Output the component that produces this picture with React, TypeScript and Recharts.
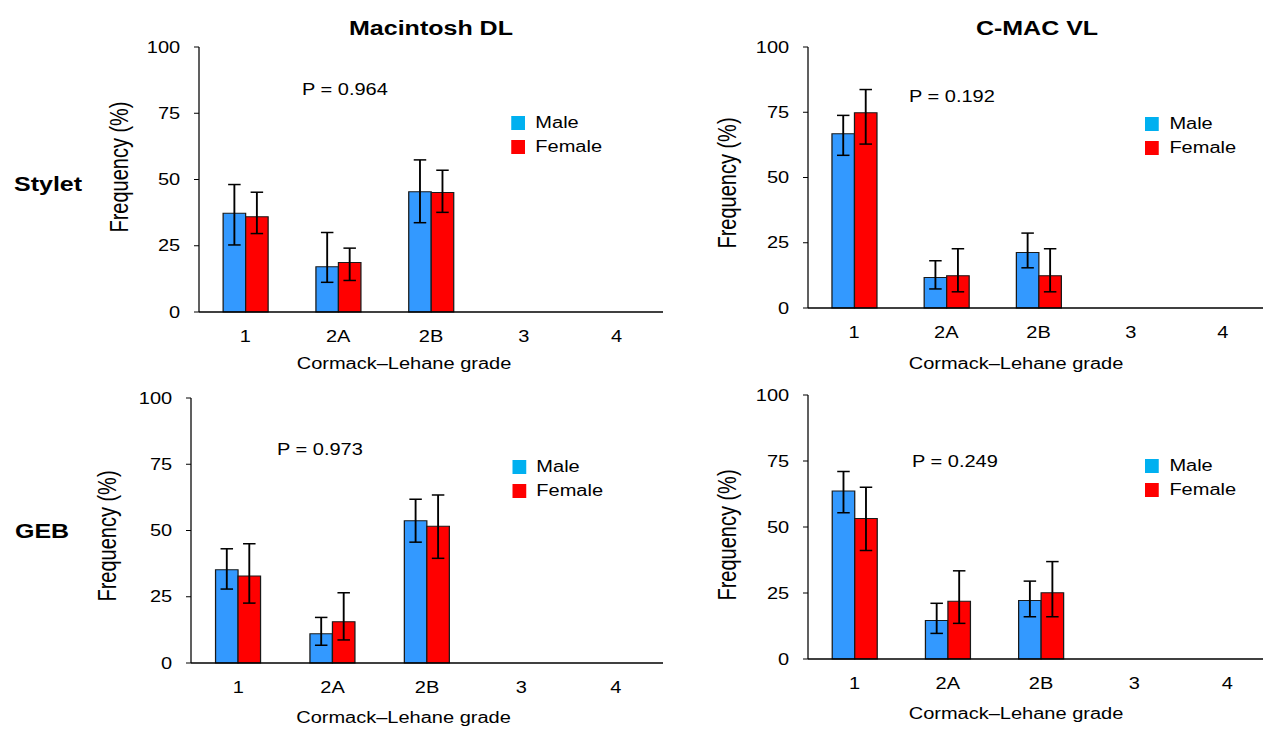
import React from 'react';
import { BarChart, Bar, XAxis, YAxis, ErrorBar, Legend } from 'recharts';

// ---------- data ----------
const grades = ['1', '2A', '2B', '3', '4'];
const yTicks = [0, 25, 50, 75, 100];
const seriesNames = ['Male', 'Female'];

// Macintosh DL – Stylet
const macStyletMale = [37.3, 17.1, 45.4, 0, 0];
const macStyletMaleLow = [25.3, 11.2, 33.7, null, null];
const macStyletMaleHigh = [48.1, 30.0, 57.4, null, null];
const macStyletFemale = [35.9, 18.7, 45.1, 0, 0];
const macStyletFemaleLow = [29.6, 11.9, 37.6, null, null];
const macStyletFemaleHigh = [45.2, 24.1, 53.5, null, null];

// C-MAC VL – Stylet
const cmacStyletMale = [66.8, 11.7, 21.3, 0, 0];
const cmacStyletMaleLow = [58.5, 7.3, 15.4, null, null];
const cmacStyletMaleHigh = [73.8, 18.1, 28.7, null, null];
const cmacStyletFemale = [74.8, 12.4, 12.4, 0, 0];
const cmacStyletFemaleLow = [62.8, 6.2, 6.2, null, null];
const cmacStyletFemaleHigh = [83.7, 22.7, 22.7, null, null];

// Macintosh DL – GEB
const macGebMale = [35.2, 11.0, 53.7, 0, 0];
const macGebMaleLow = [27.9, 6.7, 45.6, null, null];
const macGebMaleHigh = [43.1, 17.2, 61.8, null, null];
const macGebFemale = [32.8, 15.6, 51.6, 0, 0];
const macGebFemaleLow = [22.6, 8.7, 39.5, null, null];
const macGebFemaleHigh = [45.0, 26.5, 63.4, null, null];

// C-MAC VL – GEB
const cmacGebMale = [63.6, 14.6, 22.2, 0, 0];
const cmacGebMaleLow = [55.4, 9.7, 16.0, null, null];
const cmacGebMaleHigh = [71.0, 21.1, 29.5, null, null];
const cmacGebFemale = [53.2, 21.9, 25.1, 0, 0];
const cmacGebFemaleLow = [41.1, 13.5, 16.0, null, null];
const cmacGebFemaleHigh = [65.1, 33.4, 36.9, null, null];

const pValues = ['P = 0.964', 'P = 0.192', 'P = 0.973', 'P = 0.249'];
const columnTitles = ['Macintosh DL', 'C-MAC VL'];
const rowTitles = ['Stylet', 'GEB'];
const xTitle = 'Cormack\u2013Lehane grade';
const yTitle = 'Frequency (%)';

// ---------- helpers ----------
type Num = number | null;
function err(v: number, lo: Num, hi: Num) {
  if (lo == null || hi == null) return null;
  return [v - lo, hi - v];
}
function buildRows(m: number[], mLo: Num[], mHi: Num[], f: number[], fLo: Num[], fHi: Num[]) {
  return grades.map((g, i) => ({
    grade: g,
    male: m[i],
    female: f[i],
    maleErr: err(m[i], mLo[i], mHi[i]),
    femaleErr: err(f[i], fLo[i], fHi[i]),
  }));
}

const rowsA = buildRows(macStyletMale, macStyletMaleLow, macStyletMaleHigh, macStyletFemale, macStyletFemaleLow, macStyletFemaleHigh);
const rowsB = buildRows(cmacStyletMale, cmacStyletMaleLow, cmacStyletMaleHigh, cmacStyletFemale, cmacStyletFemaleLow, cmacStyletFemaleHigh);
const rowsC = buildRows(macGebMale, macGebMaleLow, macGebMaleHigh, macGebFemale, macGebFemaleLow, macGebFemaleHigh);
const rowsD = buildRows(cmacGebMale, cmacGebMaleLow, cmacGebMaleHigh, cmacGebFemale, cmacGebFemaleLow, cmacGebFemaleHigh);

// ---------- style ----------
const FONT = '"Liberation Sans", Arial, Helvetica, sans-serif';
const STRETCH = 1.25;
const BAR_BLUE = '#3399FF';
const BAR_RED = '#FF0000';
const LEG_BLUE = '#00B0F0';
const LEG_RED = '#FF0000';

type PanelProps = {
  left: number; top: number; width: number; height: number;
  yAxisWidth: number; marginTop: number; marginRight: number; xAxisHeight: number;
  rows: any[]; rightBorder: boolean; pText: string; pX: number; pY: number;
  legX: number; legY: number; yLabX: number; yLabY: number; xLabX: number; xLabY: number;
};

function Panel(p: PanelProps) {
  const legendContent = () => (
    <div style={{ position: 'relative', width: 120, height: 50, fontFamily: FONT, fontSize: 16, color: '#000' }}>
      {seriesNames.map((name, i) => (
        <div key={name} style={{ position: 'absolute', left: 0, top: i * 24, height: 24, display: 'flex', alignItems: 'center' }}>
          <div style={{ width: 11, height: 14, background: i === 0 ? LEG_BLUE : LEG_RED }} />
          <div style={{ marginLeft: 8.5, lineHeight: '24px', whiteSpace: 'nowrap' }}>{name}</div>
        </div>
      ))}
    </div>
  );
  return (
    <div style={{ position: 'absolute', left: p.left, top: p.top, width: p.width, height: p.height }}>
      <BarChart
        width={p.width}
        height={p.height}
        data={p.rows}
        margin={{ top: p.marginTop, right: p.marginRight, left: 0, bottom: 0 }}
        barCategoryGap="26%"
        barGap={0}
        style={{ fontFamily: FONT }}
      >
        <XAxis
          dataKey="grade"
          interval={0}
          height={p.xAxisHeight}
          tickLine={false}
          tickSize={0}
          tickMargin={19}
          tick={{ fill: '#000', fontSize: 16 }}
          axisLine={{ stroke: '#000', strokeWidth: 1.5 }}
          label={() => (
            <text x={p.xLabX} y={p.xLabY} textAnchor="middle" fontSize={16} fill="#000" fontFamily={FONT}>
              {xTitle}
            </text>
          )}
        />
        <XAxis
          xAxisId="top"
          orientation="top"
          dataKey="grade"
          height={0}
          tick={false}
          tickLine={false}
          axisLine={{ stroke: '#8c8c8c', strokeWidth: 1 }}
        />
        <YAxis
          type="number"
          domain={[0, 100]}
          ticks={yTicks}
          interval={0}
          width={p.yAxisWidth}
          tickSize={4}
          tickMargin={11}
          tick={{ fill: '#000', fontSize: 16 }}
          tickLine={{ stroke: '#000' }}
          axisLine={{ stroke: '#000', strokeWidth: 1 }}
          label={() => (
            <text
              x={p.yLabX}
              y={p.yLabY}
              textAnchor="middle"
              dominantBaseline="central"
              fontSize={20}
              fill="#000"
              fontFamily={FONT}
              transform={`rotate(-90, ${p.yLabX}, ${p.yLabY})`}
            >
              {yTitle}
            </text>
          )}
        />
        {p.rightBorder && (
          <YAxis
            yAxisId="right"
            orientation="right"
            type="number"
            domain={[0, 100]}
            width={0}
            tick={false}
            tickLine={false}
            axisLine={{ stroke: '#262626', strokeWidth: 1.5 }}
          />
        )}
        <Legend
          layout="vertical"
          align="center"
          verticalAlign="middle"
          content={legendContent}
          wrapperStyle={{ left: p.legX, top: p.legY, width: 120, height: 50 }}
        />
        <Bar dataKey="male" name="Male" fill={BAR_BLUE} stroke="#1a1a1a" strokeWidth={1} isAnimationActive={false}>
          <ErrorBar dataKey="maleErr" width={5} stroke="#000" strokeWidth={1.5} direction="y" />
        </Bar>
        <Bar dataKey="female" name="Female" fill={BAR_RED} stroke="#1a1a1a" strokeWidth={1} isAnimationActive={false}>
          <ErrorBar dataKey="femaleErr" width={5} stroke="#000" strokeWidth={1.5} direction="y" />
        </Bar>
      </BarChart>
      <div
        style={{
          position: 'absolute', left: p.pX, top: p.pY - 10, lineHeight: '20px',
          fontFamily: FONT, fontSize: 16, color: '#000', whiteSpace: 'nowrap',
        }}
      >
        {p.pText}
      </div>
    </div>
  );
}

export default function App() {
  const titleStyle: React.CSSProperties = {
    position: 'absolute', fontFamily: FONT, fontSize: 20, fontWeight: 'bold',
    color: '#000', lineHeight: '24px', whiteSpace: 'nowrap',
  };
  return (
    <div style={{ position: 'absolute', left: 0, top: 0, width: 1263, height: 729, overflow: 'hidden', background: '#fff' }}>
      <div
        style={{
          position: 'absolute', left: 0, top: 0, width: 1263 / STRETCH, height: 729,
          transform: `scaleX(${STRETCH})`, transformOrigin: '0 0',
        }}
      >
        <div style={{ ...titleStyle, left: 344.8 - 150, width: 300, textAlign: 'center', top: 28 - 12 }}>{columnTitles[0]}</div>
        <div style={{ ...titleStyle, left: 829.6 - 150, width: 300, textAlign: 'center', top: 28 - 12 }}>{columnTitles[1]}</div>
        <div style={{ ...titleStyle, left: 11.2, top: 184 - 12 }}>{rowTitles[0]}</div>
        <div style={{ ...titleStyle, left: 12, top: 531 - 12 }}>{rowTitles[1]}</div>

        <Panel
          left={0} top={0} width={560} height={380}
          yAxisWidth={159.2} marginTop={47} marginRight={29.6} xAxisHeight={68}
          rows={rowsA} rightBorder={true} pText={pValues[0]} pX={241.6} pY={90}
          legX={408.8} legY={123 - 12} yLabX={96} yLabY={167} xLabX={323.2} xLabY={369.5}
        />
        <Panel
          left={560} top={0} width={460} height={380}
          yAxisWidth={86.4} marginTop={47} marginRight={4.8} xAxisHeight={72}
          rows={rowsB} rightBorder={false} pText={pValues[1]} pX={167.2} pY={97}
          legX={356} legY={124 - 12} yLabX={22.4} yLabY={183} xLabX={252.8} xLabY={369.5}
        />
        <Panel
          left={0} top={380} width={560} height={349}
          yAxisWidth={152.8} marginTop={18} marginRight={29.6} xAxisHeight={66}
          rows={rowsC} rightBorder={true} pText={pValues[2]} pX={221.6} pY={70}
          legX={409.6} legY={87 - 12} yLabX={86.4} yLabY={156} xLabX={322.8} xLabY={343.5}
        />
        <Panel
          left={560} top={380} width={465} height={349}
          yAxisWidth={86.4} marginTop={15} marginRight={5.8} xAxisHeight={70}
          rows={rowsD} rightBorder={false} pText={pValues[3]} pX={169.6} pY={82}
          legX={356} legY={86 - 12} yLabX={22.4} yLabY={155} xLabX={252.8} xLabY={339.5}
        />
      </div>
    </div>
  );
}
